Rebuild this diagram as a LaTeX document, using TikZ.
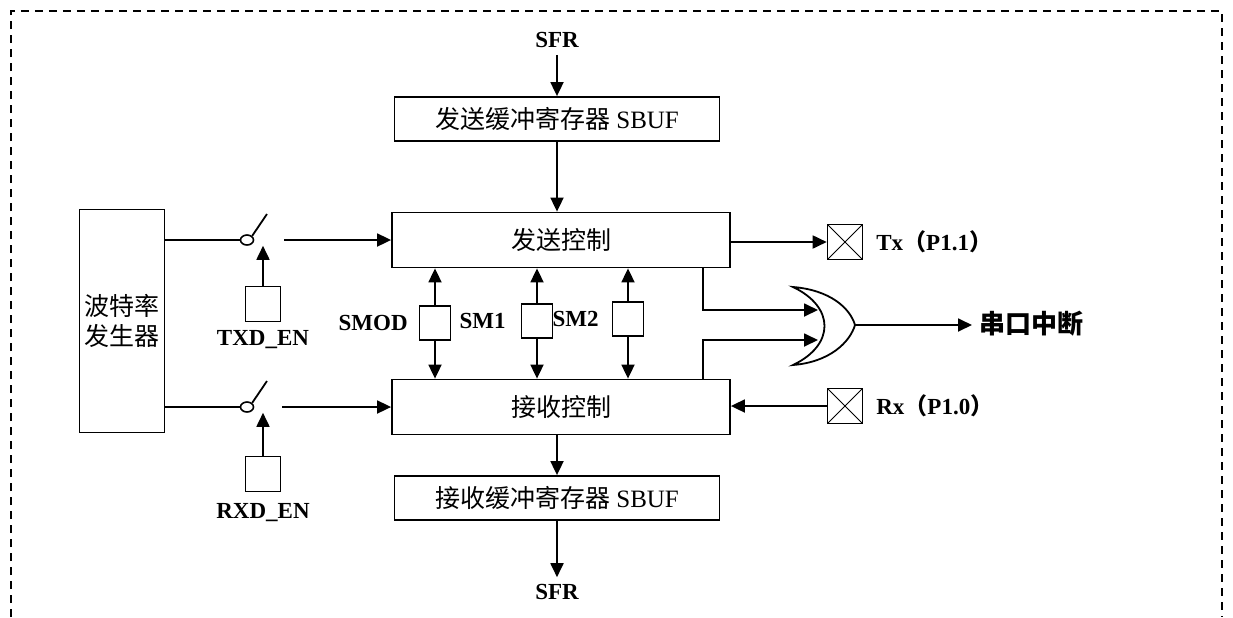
\documentclass[tikz,border=0pt]{standalone}
\usepackage{fontspec}
\setmainfont{Liberation Serif}
\newfontfamily\cjk{Noto Sans CJK SC}
\usetikzlibrary{arrows.meta,positioning,calc,shapes.geometric}

\begin{document}
\begin{tikzpicture}[
  x=0.5pt,y=-0.5pt,
  font=\fontsize{12.5}{15}\selectfont,
  box/.style={draw,line width=0.9pt,inner sep=0pt,align=center},
  regbox/.style={box,minimum width=162.5pt,minimum height=22pt},
  ctlbox/.style={box,minimum width=169pt,minimum height=27.5pt},
  flag/.style={draw,line width=0.8pt,minimum width=17.5pt,minimum height=17.5pt,inner sep=0pt},
  bit/.style={draw,line width=0.8pt,minimum width=15.5pt,minimum height=17pt,inner sep=0pt},
  pin/.style={flag,path picture={\draw[line width=0.5pt] (path picture bounding box.south west) -- (path picture bounding box.north east) (path picture bounding box.north west) -- (path picture bounding box.south east);}},
  pivot/.style={draw,ellipse,line width=0.8pt,minimum width=6.5pt,minimum height=5pt,inner sep=0pt},
  tag/.style={font=\bfseries\fontsize{11.5}{14}\selectfont},
  flow/.style={-{Triangle[length=7pt,width=6.5pt]},line width=0.9pt},
  wire/.style={line width=0.9pt},
  frame/.style={line width=0.7pt,dash pattern=on 4pt off 3pt}
]
  \useasboundingbox (0,0) rectangle (1233,617);
  \draw[frame] (11,617) -- (11,11) -- (1222,11) -- (1222,617);

  \node[tag] (sfrin) at (557,40) {SFR};
  \node[regbox] (tbuf) at (557,119) {{\cjk 发送缓冲寄存器} SBUF};
  \node[ctlbox] (tctl) at (561,240) {\cjk 发送控制};
  \node[ctlbox] (rctl) at (561,407) {\cjk 接收控制};
  \node[regbox] (rbuf) at (557,498) {{\cjk 接收缓冲寄存器} SBUF};
  \node[tag] (sfrout) at (557,592) {SFR};
  \draw[flow] (sfrin.south) -- (tbuf.north);
  \draw[flow] (tbuf.south) -- (tbuf.south |- tctl.north);
  \draw[flow] (rctl.south -| rbuf) -- (rbuf.north);
  \draw[flow] (rbuf.south) -- (sfrout.north);

  \node[box,minimum width=42.5pt,minimum height=111.5pt] (baud) at (122,321) {\cjk 波特率\\\cjk 发生器};

  \node[pivot] (tsw) at (247,240) {};
  \coordinate (tarm) at (267,214);
  \coordinate (tout) at (284,240);
  \node[flag] (ten) at (263,304) {};
  \node[tag] (tenl) at (263,340) {TXD\_EN};
  \draw[wire] (tsw.west -| baud.east) -- (tsw.west);
  \draw[wire] (tsw.north east) -- (tarm);
  \draw[flow] (ten.north) -- (ten.north |- tsw.south);
  \draw[flow] (tout) -- (tout -| tctl.west);

  \node[pivot] (rsw) at (247,407) {};
  \coordinate (rarm) at (267,381);
  \coordinate (rout) at (282,407);
  \node[flag] (ren) at (263,474) {};
  \node[tag] (renl) at (263,513) {RXD\_EN};
  \draw[wire] (rsw.west -| baud.east) -- (rsw.west);
  \draw[wire] (rsw.north east) -- (rarm);
  \draw[flow] (ren.north) -- (ren.north |- rsw.south);
  \draw[flow] (rout) -- (rout -| rctl.west);

  \node[bit] (smod) at (435,323) {};
  \node[bit] (sm1) at (537,321) {};
  \node[bit] (sm2) at (628,319) {};
  \node[tag,left=2pt of smod] (smodl) {SMOD};
  \node[tag,left=4pt of sm1] (sm1l) {SM1};
  \node[tag,left=3pt of sm2] (sm2l) {SM2};
  \foreach \b in {smod,sm1,sm2} {
    \draw[flow] (\b.north) -- (\b.north |- tctl.south);
    \draw[flow] (\b.south) -- (\b.south |- rctl.north);
  }

  \node[pin] (txp) at (845,242) {};
  \node[tag,right=3pt of txp] (txl) {Tx{\cjk （}P1.1{\cjk ）}};
  \draw[flow] (tctl.east |- txp) -- (txp.west);
  \node[pin] (rxp) at (845,406) {};
  \node[tag,right=3pt of rxp] (rxl) {Rx{\cjk （}P1.0{\cjk ）}};
  \draw[flow] (rxp.west) -- (rxp.west -| rctl.east);

  \coordinate (gtop) at (793,287);
  \coordinate (gbot) at (793,365);
  \coordinate (gout) at (855,325);
  \coordinate (gin1) at (818,310);
  \coordinate (gin2) at (818,340);
  \draw[wire] (gtop) .. controls (830,290) and (850,308) .. (gout)
    .. controls (850,342) and (830,362) .. (gbot)
    .. controls (835,345) and (835,307) .. (gtop) -- cycle;
  \draw[flow] ([xshift=-14pt]tctl.south east) |- (gin1);
  \draw[flow] ([xshift=-14pt]rctl.north east) |- (gin2);

  \node[tag,anchor=west,font=\bfseries\fontsize{13}{15}\selectfont] (irq) at (972,324) {\cjk 串口中断};
  \draw[flow] (gout) -- (gout -| irq.west);
\end{tikzpicture}
\end{document}
